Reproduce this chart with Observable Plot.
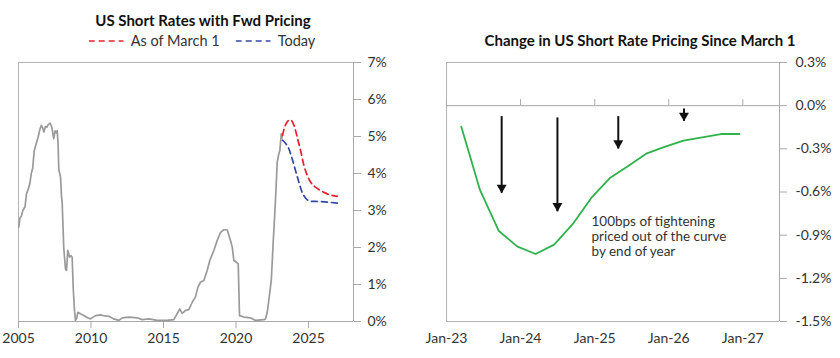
<!DOCTYPE html>
<html><head><meta charset="utf-8">
<script src="https://cdn.jsdelivr.net/npm/d3@7"></script>
<script src="https://cdn.jsdelivr.net/npm/@observablehq/plot@0.6"></script>
<style>
body{margin:0;background:#fff;font-family:Lato,"Open Sans",sans-serif;}
#wrap{position:relative;width:840px;height:358px;overflow:hidden;background:#fff}
.panel{position:absolute;top:0}
.title{position:absolute;font-weight:700;font-size:15px;line-height:18px;color:#111;white-space:nowrap;transform:translateX(-50%)}
.legend{position:absolute;top:32px;left:202px;transform:translateX(-50%);display:flex;align-items:center;font-size:14.5px;line-height:18px;color:#333;white-space:nowrap}
.legend svg{display:block;margin-right:7px}
.legend .gap{width:16px}
</style></head>
<body>
<div id="wrap">
  <div id="left" class="panel" style="left:0"></div>
  <div id="right" class="panel" style="left:420px"></div>
  <div class="title" style="left:203px;top:11px">US Short Rates with Fwd Pricing</div>
  <div class="legend" id="legend"></div>
  <div class="title" style="left:640px;top:31px">Change in US Short Rate Pricing Since March 1</div>
</div>
<script>
// ---------- Left panel data ----------
const grayYear = [2005.02,2005.10,2005.20,2005.30,2005.45,2005.55,2005.65,2005.78,2005.88,2005.98,2006.08,2006.20,2006.35,2006.48,2006.58,2006.68,2006.75,2006.86,2006.95,2007.05,2007.18,2007.30,2007.38,2007.43,2007.52,2007.60,2007.67,2007.73,2007.78,2007.85,2007.90,2007.97,2008.01,2008.12,2008.24,2008.31,2008.40,2008.52,2008.63,2008.70,2008.77,2008.86,2008.93,2009.02,2009.09,2009.30,2009.50,2009.75,2009.97,2010.31,2010.66,2010.95,2011.23,2011.57,2011.92,2012.15,2012.60,2013.19,2013.53,2013.99,2014.56,2015.26,2015.71,2015.94,2016.12,2016.29,2016.52,2016.74,2016.98,2017.20,2017.37,2017.55,2017.78,2018.01,2018.19,2018.47,2018.70,2018.93,2019.16,2019.39,2019.62,2019.74,2019.85,2020.03,2020.15,2020.24,2020.54,2021.00,2021.34,2021.92,2022.03,2022.15,2022.26,2022.43,2022.57,2022.72,2022.84,2022.95,2023.02,2023.12,2023.16,2023.20];
const grayRate = [2.55,2.80,2.85,3.00,3.10,3.45,3.55,3.72,4.00,4.15,4.60,4.78,4.98,5.20,5.30,5.22,5.12,5.27,5.25,5.32,5.36,5.25,5.05,4.94,5.15,5.10,5.16,4.80,4.10,3.99,3.90,3.36,3.22,2.00,1.42,1.38,1.92,1.74,1.78,1.74,0.93,0.30,0.03,0.10,0.25,0.20,0.16,0.10,0.07,0.16,0.18,0.15,0.14,0.07,0.03,0.10,0.12,0.10,0.05,0.07,0.03,0.03,0.05,0.21,0.34,0.22,0.30,0.32,0.52,0.66,0.93,1.06,1.11,1.38,1.65,1.92,2.19,2.41,2.48,2.48,2.19,2.01,1.65,1.60,1.56,0.16,0.12,0.10,0.03,0.05,0.07,0.25,0.57,1.11,2.19,3.27,4.31,4.53,4.62,5.07,4.96,5.03];
const marchYear = [2023.20,2023.35,2023.50,2023.75,2024.00,2024.22,2024.45,2024.68,2024.91,2025.14,2025.48,2025.83,2026.29,2026.98];
const marchRate = [5.03,5.25,5.38,5.45,5.30,4.98,4.62,4.22,3.95,3.77,3.63,3.54,3.45,3.38];
const todayYear = [2023.20,2023.41,2023.64,2023.87,2024.10,2024.33,2024.56,2024.79,2025.14,2025.83,2026.98];
const todayRate = [4.90,4.82,4.67,4.40,4.08,3.77,3.49,3.34,3.25,3.24,3.20];
const leftXTicks = [2005,2010,2015,2020,2025];
const leftYTicks = [0,1,2,3,4,5,6,7];
const legendLabels = ["As of March 1","Today"];

// ---------- Right panel data ----------
const chgDates = ["2023-03-15","2023-06-15","2023-09-15","2023-12-15","2024-03-15","2024-06-15","2024-09-15","2024-12-15","2025-03-15","2025-06-15","2025-09-15","2025-12-15","2026-03-15","2026-06-15","2026-09-15","2026-12-15"];
const chgValues = [-0.146,-0.586,-0.869,-0.978,-1.031,-0.966,-0.822,-0.641,-0.505,-0.419,-0.331,-0.285,-0.243,-0.220,-0.197,-0.197];
const arrowDates = ["2023-09-30","2024-07-01","2025-04-27","2026-03-17"];
const arrowTop = [-0.076,-0.085,-0.076,-0.023];
const arrowTip = [-0.609,-0.737,-0.301,-0.109];
const rightXTicks = ["2023-01-01","2024-01-01","2025-01-01","2026-01-01","2027-01-01"];
const rightYTicks = [-1.5,-1.2,-0.9,-0.6,-0.3,0,0.3];
const noteLines = ["100bps of tightening","priced out of the curve","by end of year"];
const noteDate = ["2024-12-16"];
const noteValue = [-0.762];

const RED = "#e5222b", BLUE = "#3348a6", GRAY = "#9a9a9a", GREEN = "#2fb24c";
const FRAME = "#b4b4b4", AXIS = "#a8a8a8", TEXT = "#333";
const font = "Lato, 'Open Sans', sans-serif";

const gray = grayYear.map((x, i) => ({x, y: grayRate[i]}));
const march = marchYear.map((x, i) => ({x, y: marchRate[i]}));
const today = todayYear.map((x, i) => ({x, y: todayRate[i]}));
const xMaxL = 2028.1;

const left = Plot.plot({
  width: 420, height: 358,
  marginTop: 62, marginBottom: 37, marginLeft: 18, marginRight: 67,
  style: {fontFamily: font, fontSize: "14px", color: TEXT, background: "transparent", overflow: "visible"},
  x: {domain: [2005, xMaxL]},
  y: {domain: [0, 7]},
  marks: [
    Plot.ruleY([7], {stroke: FRAME}),
    Plot.ruleX([2005], {stroke: FRAME}),
    Plot.ruleY([0], {stroke: AXIS}),
    Plot.ruleX([xMaxL], {stroke: AXIS}),
    Plot.axisX({ticks: leftXTicks, tickFormat: d => String(d), tickSize: 7, tickPadding: 5, stroke: AXIS, color: TEXT, fontSize: 14, label: null}),
    Plot.axisY({anchor: "right", ticks: leftYTicks, tickFormat: d => d + "%", tickSize: 7, tickPadding: 7, stroke: AXIS, color: TEXT, fontSize: 14, label: null}),
    Plot.line(gray, {x: "x", y: "y", stroke: GRAY, strokeWidth: 1.7}),
    Plot.line(march, {x: "x", y: "y", stroke: RED, strokeWidth: 1.7, strokeDasharray: "6,4", curve: "monotone-x"}),
    Plot.line(today, {x: "x", y: "y", stroke: BLUE, strokeWidth: 1.7, strokeDasharray: "6,4", curve: "monotone-x"})
  ]
});
document.getElementById("left").appendChild(left);

// legend
const legend = document.getElementById("legend");
[[RED, legendLabels[0]], [BLUE, legendLabels[1]]].forEach(([c, t], i) => {
  if (i > 0) { const g = document.createElement("div"); g.className = "gap"; legend.appendChild(g); }
  const ns = "http://www.w3.org/2000/svg";
  const s = document.createElementNS(ns, "svg");
  s.setAttribute("width", 35); s.setAttribute("height", 10);
  const l = document.createElementNS(ns, "line");
  l.setAttribute("x1", 0); l.setAttribute("x2", 35); l.setAttribute("y1", 5); l.setAttribute("y2", 5);
  l.setAttribute("stroke", c); l.setAttribute("stroke-width", 1.7); l.setAttribute("stroke-dasharray", "6,4");
  s.appendChild(l); legend.appendChild(s);
  const sp = document.createElement("span"); sp.textContent = t; legend.appendChild(sp);
});

// right panel
const parse = d3.utcParse("%Y-%m-%d");
const chg = chgDates.map((d, i) => ({x: parse(d), y: chgValues[i]}));
const arrows = arrowDates.map((d, i) => ({x: parse(d), y1: arrowTop[i], y2: arrowTip[i]}));
const xT = rightXTicks.map(parse);
const xDom = [parse("2023-01-01"), parse("2027-07-01")];
const yDom = [-1.5, 0.3];
const H = 358, mT = 62, mB = 37;
const unitsPerPx = (yDom[1] - yDom[0]) / (H - mT - mB);
const headR = 3.7, headOffset = headR * Math.sqrt(Math.PI * 4 / Math.sqrt(3)) * Math.sqrt(3) / 3;

const right = Plot.plot({
  width: 420, height: H,
  marginTop: mT, marginBottom: mB, marginLeft: 26, marginRight: 61,
  style: {fontFamily: font, fontSize: "14px", color: TEXT, background: "transparent", overflow: "visible"},
  x: {type: "utc", domain: xDom},
  y: {domain: yDom},
  marks: [
    Plot.ruleY([yDom[1]], {stroke: FRAME}),
    Plot.ruleY([yDom[0]], {stroke: FRAME}),
    Plot.ruleX([xDom[0]], {stroke: FRAME}),
    Plot.ruleX([xDom[1]], {stroke: AXIS}),
    Plot.ruleY([0], {stroke: AXIS}),
    Plot.ruleX(xT, {x: d => d, y1: 0, y2: 6 * unitsPerPx, stroke: AXIS}),
    Plot.axisX({ticks: xT, tickFormat: d => "Jan-" + String(d.getUTCFullYear()).slice(2), tickSize: 0, tickPadding: 12, color: TEXT, fontSize: 14, label: null}),
    Plot.axisY({anchor: "right", ticks: rightYTicks, tickFormat: d => d.toFixed(1) + "%", tickSize: 7, tickPadding: 9, stroke: AXIS, color: TEXT, fontSize: 14, label: null}),
    Plot.line(chg, {x: "x", y: "y", stroke: GREEN, strokeWidth: 1.8}),
    Plot.ruleX(arrows, {x: "x", y1: "y1", y2: "y2", stroke: "#111", strokeWidth: 2}),
    Plot.dot(arrows, {x: "x", y: "y2", symbol: "triangle", rotate: 180, r: headR, fill: "#111", stroke: null, dy: -headOffset}),
    Plot.text([noteLines.join("\n")], {x: parse(noteDate[0]), y: noteValue[0], text: d => d, textAnchor: "start", lineAnchor: "top", lineHeight: 1.12, fontSize: 13.5, fill: TEXT})
  ]
});
document.getElementById("right").appendChild(right);
</script>
</body></html>
